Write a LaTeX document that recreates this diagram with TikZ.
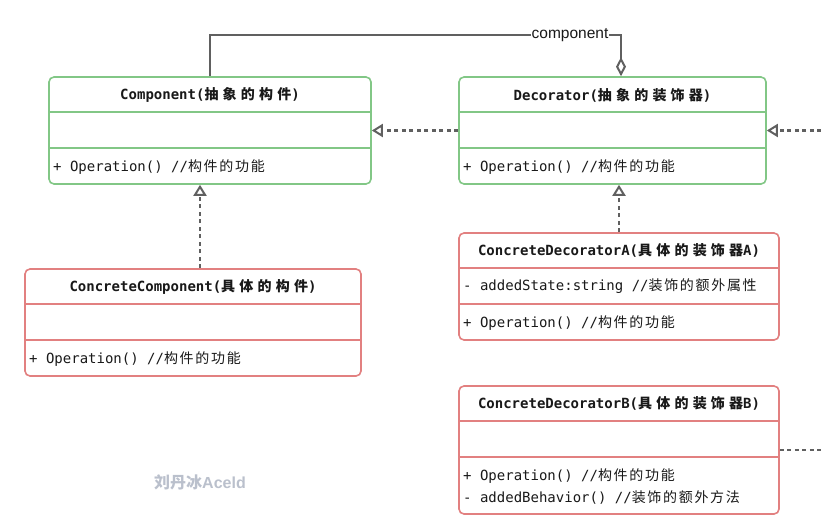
\documentclass[tikz,border=0pt]{standalone}
\usepackage{fontspec}
\setmainfont{Liberation Sans}
\setmonofont{DejaVu Sans Mono}
\newfontfamily\cjk[LetterSpace=12]{Noto Sans CJK SC}
\newfontfamily\cjkt[LetterSpace=30]{Noto Sans CJK SC}
\newfontfamily\cjkw{Noto Sans CJK SC}
\usetikzlibrary{arrows.meta}
\definecolor{gb}{RGB}{130,199,134}
\definecolor{rb}{RGB}{226,128,128}
\definecolor{ln}{RGB}{96,96,96}
\definecolor{tx}{RGB}{25,25,25}
\definecolor{wmc}{RGB}{186,192,204}
\tikzset{
  clsbox/.style={draw, line width=1.6pt, rounded corners=5pt, fill=white, inner sep=0pt},
  gbox/.style={clsbox, draw=gb},
  rbox/.style={clsbox, draw=rb},
  gsep/.style={draw=gb, line width=1.6pt},
  rsep/.style={draw=rb, line width=1.6pt},
  ttl/.style={font=\fontsize{14}{16}\selectfont\ttfamily\bfseries, text=tx, inner sep=0pt},
  txt/.style={font=\fontsize{14}{16}\selectfont\ttfamily, text=tx, inner sep=0pt, anchor=west},
  conn/.style={draw=ln, line width=2.4pt},
  dep/.style={draw=ln, line width=2.4pt, dash pattern=on 4pt off 3.5pt, -{Triangle[open, length=11pt, width=13pt, line width=2pt]}},
  depline/.style={draw=ln, line width=2.4pt, dash pattern=on 4pt off 3.5pt},
  lbl/.style={font=\fontsize{15.5}{17}\selectfont, text=tx, fill=white, inner sep=1pt},
  wm/.style={font=\fontsize{16}{18}\selectfont\bfseries, text=wmc, inner sep=0pt}
}
\begin{document}
\begin{tikzpicture}[x=1pt,y=-1pt]
\useasboundingbox[fill=white] (0,0) rectangle (821,519);
% boxes
\node[gbox, minimum width=322pt, minimum height=107pt] (comp) at (210,130.5) {};
\node[gbox, minimum width=307pt, minimum height=107pt] (dec) at (612.5,130.5) {};
\node[rbox, minimum width=336pt, minimum height=107pt] (cc) at (193,322.5) {};
\node[rbox, minimum width=320pt, minimum height=107pt] (cda) at (619,286.5) {};
\node[rbox, minimum width=320pt, minimum height=128pt] (cdb) at (619,450) {};
% separators
\foreach \n in {comp,dec}{
  \draw[gsep] ([yshift=-36pt]\n.north west) -- ([yshift=-36pt]\n.north east);
  \draw[gsep] ([yshift=-72pt]\n.north west) -- ([yshift=-72pt]\n.north east);
}
\foreach \n in {cc,cda,cdb}{
  \draw[rsep] ([yshift=-36pt]\n.north west) -- ([yshift=-36pt]\n.north east);
  \draw[rsep] ([yshift=-72pt]\n.north west) -- ([yshift=-72pt]\n.north east);
}
% titles
\node[ttl] (compT) at ([yshift=-19pt]comp.north) {Component({\cjkt\bfseries 抽象的构件})};
\node[ttl] (decT) at ([yshift=-19pt]dec.north) {Decorator({\cjkt\bfseries 抽象的装饰器})};
\node[ttl] (ccT) at ([yshift=-19pt]cc.north) {ConcreteComponent({\cjkt\bfseries 具体的构件})};
\node[ttl] (cdaT) at ([yshift=-18pt]cda.north) {ConcreteDecoratorA({\cjkt\bfseries 具体的装饰器}A)};
\node[ttl] (cdbT) at ([yshift=-18pt]cdb.north) {ConcreteDecoratorB({\cjkt\bfseries 具体的装饰器}B)};
% members
\node[txt] (compO) at (53,167.5) {+ Operation() //{\cjk 构件的功能}};
\node[txt] (decO) at (463,167.5) {+ Operation() //{\cjk 构件的功能}};
\node[txt] (ccO) at (29,359.5) {+ Operation() //{\cjk 构件的功能}};
\node[txt] (cdaA) at (463,286.5) {- addedState:string //{\cjk 装饰的额外属性}};
\node[txt] (cdaO) at (463,323.5) {+ Operation() //{\cjk 构件的功能}};
\node[txt] (cdbO) at (463,476.5) {+ Operation() //{\cjk 构件的功能}};
\node[txt] (cdbB) at (463,497.5) {- addedBehavior() //{\cjk 装饰的额外方法}};
% connectors
\coordinate (agg) at (621,35);
\coordinate (xcc) at (200,0);
\coordinate (rin) at (821,130.5);
\coordinate (rout) at (821,450);
\draw[conn, -{Diamond[open, length=19pt, width=10pt, line width=2pt]}] (comp.north) |- (agg) -- (agg |- dec.north);
\node[lbl] (aggL) at (570,35) {component};
\draw[dep] (dec.west) -- (comp.east);
\draw[dep] (rin) -- (dec.east);
\draw[dep] (cc.north -| xcc) -- (comp.south -| xcc);
\draw[dep] (cda.north) -- (cda.north |- dec.south);
\draw[depline] (cdb.east) -- (rout);
% watermark
\node[wm] (wmk) at (200,482) {{\cjkw\bfseries 刘丹冰}Aceld};
\end{tikzpicture}
\end{document}
